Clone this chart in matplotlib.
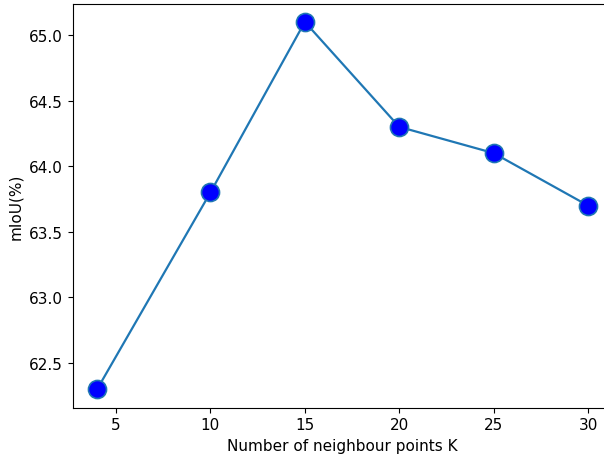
import matplotlib
matplotlib.use("Agg")
import matplotlib.pyplot as plt

# neighbour points K vs mIoU
k_values = [4, 10, 15, 20, 25, 30]
miou = [62.3, 63.8, 65.1, 64.3, 64.1, 63.7]

plt.rcParams["font.size"] = 11

fig = plt.figure(figsize=(6.04, 4.56), dpi=100)
# axes runs a bit past the right edge, like the cropped original
ax = fig.add_axes([0.1202, 0.104, 0.894, 0.886])
ax.plot(k_values, miou, "-o", color="tab:blue", markersize=13, linewidth=1.6,
        markerfacecolor="blue", markeredgecolor="tab:blue", markeredgewidth=1.2)
ax.set_xlabel("Number of neighbour points K")
ax.set_ylabel("mIoU(%)")

fig.savefig("out.png", dpi=100)
